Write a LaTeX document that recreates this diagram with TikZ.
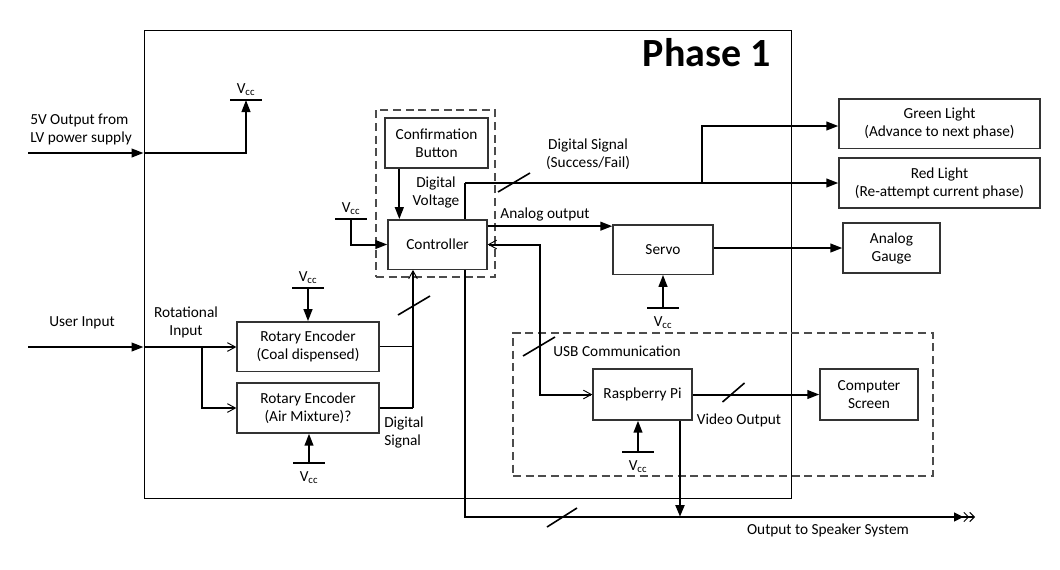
\documentclass[tikz,border=0pt]{standalone}
\usepackage{fontspec}
\setmainfont{Carlito}
\usetikzlibrary{arrows.meta,positioning,calc}

\tikzset{
  block/.style={draw=black!80, line width=1pt, minimum width=74.25pt, minimum height=37pt, align=center, inner sep=1pt},
  txt/.style={align=center, inner sep=0pt},
  fat/.style={line width=1.5pt},
  slim/.style={line width=1pt},
  barb/.style={-{Straight Barb[length=6pt,width=6.5pt,line width=0.7pt]}},
  barbs/.style={{Straight Barb[length=6pt,width=6.5pt,line width=0.7pt]}-{Straight Barb[length=6pt,width=6.5pt,line width=0.7pt]}},
  bar/.style={line width=1.5pt},
  slash/.style={line width=1.2pt},
  dashbox/.style={draw=black!70, line width=1pt, dash pattern=on 6pt off 3.5pt},
}
% supply bar with its label
\newcommand{\vcc}[3]{%
  \coordinate (#1) at (#2);
  \draw[bar] ($(#1)+(-16,0)$) -- ($(#1)+(16,0)$);
  \node[#3 of #1, txt] (#1lbl) {V\textsubscript{cc}};}
% bus mark across a line
\newcommand{\busmark}[2][16]{\draw[slash] (#2) ++(-#1,9.5) -- ++(2*#1,-19);}

\begin{document}
\begin{tikzpicture}[
                    x=0.75pt, y=-0.75pt,
                    font=\fontsize{11.5}{13.5}\selectfont,
                    >={Triangle[length=9pt,width=6.5pt]}
                    ]
    \useasboundingbox (0,0) rectangle (1060,569);

    % frame
    \node[draw, line width=0.75pt, minimum width=485.25pt, minimum height=351pt] (phase) at (467.5,264) {};
    \node[anchor=east, inner sep=0pt, font=\fontsize{30}{30}\selectfont\bfseries] (title) at (771,53) {Phase 1};
    \node[dashbox, minimum width=89.25pt, minimum height=125.25pt] (ctrlgroup) at (435.5,193.5) {};
    \node[dashbox, minimum width=315pt, minimum height=107.25pt] (pigroup) at (723,404.5) {};

    % blocks
    \node[block, minimum width=77.25pt, minimum height=37.5pt] (button) at (436.5,143) {Confirmation\\Button};
    \node[block] (ctrl) at (437.5,244.5) {Controller};
    \node[block, minimum width=75pt] (servo) at (663,249.5) {Servo};
    \node[block, minimum width=72.75pt, minimum height=37.5pt] (gauge) at (891.5,248) {Analog\\Gauge};
    \node[block, minimum width=150.75pt] (green) at (939.5,123.5) {Green Light\\(Advance to next phase)};
    \node[block, minimum width=150.75pt, minimum height=37.5pt] (red) at (939.5,183) {Red Light\\(Re-attempt current phase)};
    \node[block, minimum width=106.5pt] (enc1) at (308,346.5) {Rotary Encoder\\(Coal dispensed)};
    \node[block, minimum width=106.5pt, minimum height=37.5pt] (enc2) at (308,408) {Rotary Encoder\\(Air Mixture)?};
    \node[block, minimum height=38.25pt] (rpi) at (642.5,394.5) {Raspberry Pi};
    \node[block, minimum width=73.5pt, minimum height=38.25pt] (screen) at (869,394.5) {Computer\\Screen};

    % supplies
    \vcc{vcctop}{246,100}{above=3pt}
    \vcc{vccctrl}{351,219}{above=3pt}
    \vcc{vccenca}{308,288}{above=3pt}
    \vcc{vccencb}{309,463}{below=6pt}
    \vcc{vccservo}{663,308}{below=6pt}
    \vcc{vccpi}{638,452}{below=6pt}

    % labels
    \node[txt, anchor=west, align=left] (pwrtxt) at (30,129) {5V Output from\\LV power supply};
    \node[txt] (usertxt) at (82,323) {User Input};
    \node[txt] (rottxt) at (186,322.5) {Rotational\\Input};
    \node[txt] (dvtxt) at (436,192) {Digital\\Voltage};
    \node[txt] (dstxt) at (588,154) {Digital Signal\\(Success/Fail)};
    \node[txt] (aotxt) at (545,214) {Analog output};
    \node[txt] (usbtxt) at (617,351) {USB Communication};
    \node[txt] (vidtxt) at (739,420) {Video Output};
    \node[txt] (spktxt) at (828,530) {Output to Speaker System};
    \node[txt, anchor=west, align=left] (enctxt) at (384,432) {Digital\\Signal};

    % points on the wires
    \coordinate (pwrin) at (28,153);
    \coordinate (userin) at (28,347);
    \coordinate (split) at (202,347);
    \coordinate (encbus) at (413,408);
    \coordinate (dsig) at (465,183);
    \coordinate (gsplit) at (702,183);
    \coordinate (aout) at ($(ctrl.north east)+(0,7)$);
    \coordinate (usbc) at (540,394.5);
    \coordinate (spkc) at (465,517);
    \coordinate (spkout) at (975,517);
    \coordinate (rpiout) at (680,517);

    % power and inputs
    \draw[fat,->] (pwrin) -- (phase.west |- pwrin);
    \draw[fat,->] (phase.west |- pwrin) -| (vcctop);
    \draw[fat,->] (userin) -- (phase.west |- userin);
    \draw[slim,barb] (phase.west |- userin) -- (enc1.west |- userin);
    \draw[slim,barb] (split) |- (enc2.west);
    \draw[fat,->] (vccenca) -- (enc1.north);
    \draw[fat,->] (vccencb) -- (enc2.south -| vccencb);

    % encoders to controller
    \draw[slim] (enc1.east) -- (enc1.east -| encbus);
    \draw[slim] (enc2.east) -- (encbus);
    \draw[fat,barb] (encbus) -- (encbus |- ctrl.south);
    \draw[fat,->] ($(button.south west)+(15,0)$) -- ($(ctrl.north west)+(12,0)$);
    \draw[fat,->] (vccctrl) |- (ctrl.west);

    % controller outputs
    \draw[slim] (ctrl.north -| dsig) -- (dsig);
    \draw[fat,->] (dsig) -- (red.west |- dsig);
    \draw[fat,->] (gsplit) |- ($(green.west)+(0,2.5)$);
    \draw[fat,->] (aout) -- (aout -| servo.west);
    \draw[fat,->] (servo.east |- gauge.west) -- (gauge.west);
    \draw[fat,->] (vccservo) -- (servo.south);
    \draw[fat,barbs] (ctrl.east) -| (usbc) -- (rpi.west);
    \draw[fat,->] (vccpi) -- (rpi.south -| vccpi);
    \draw[fat,->] (rpi.east) -- (screen.west);
    \draw[line width=2.2pt,->] (rpi.south -| rpiout) -- (rpiout);
    \draw[fat,-{Triangle[length=7pt,width=6.5pt] Straight Barb[length=3.5pt,width=7pt,line width=0.7pt] Straight Barb[length=3.5pt,width=7pt,line width=0.7pt]}] (ctrl.south -| spkc) -- (spkc) -- (spkout);

    % bus marks
    \busmark{514,182.5}
    \busmark{414,305.5}
    \busmark{539,346.5}
    \busmark[11]{733.5,392.5}
    \busmark[15]{562,517.5}
\end{tikzpicture}
\end{document}
